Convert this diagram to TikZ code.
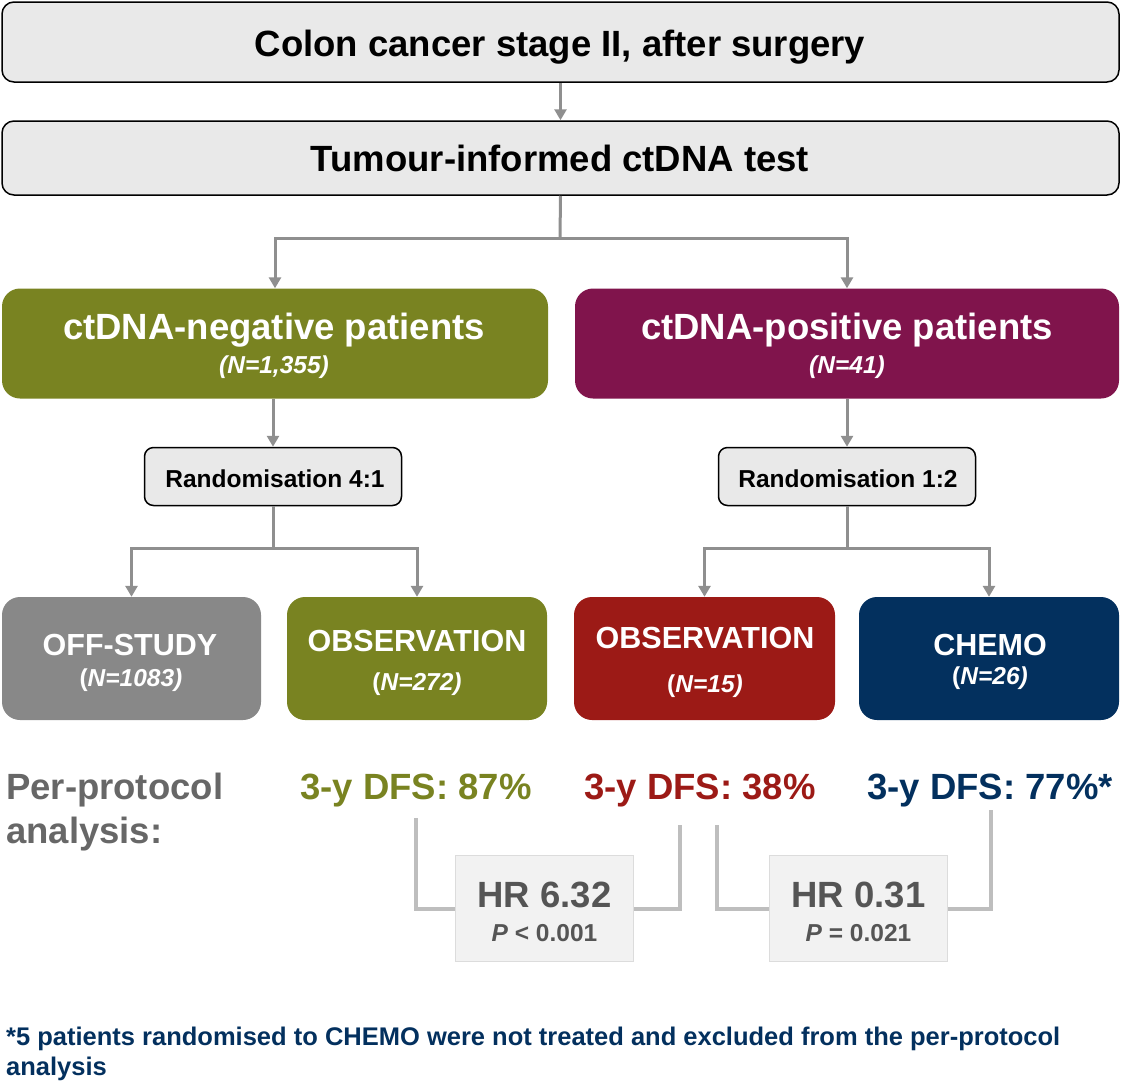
\documentclass[tikz,border=0pt]{standalone}
\usepackage{fontspec}
\setmainfont{Liberation Sans}
\usetikzlibrary{arrows.meta}
\definecolor{boxgray}{HTML}{E9E9E9}
\definecolor{olive}{HTML}{798321}
\definecolor{plum}{HTML}{80144C}
\definecolor{offgray}{HTML}{888888}
\definecolor{obsred}{HTML}{9C1A16}
\definecolor{navy}{HTML}{03305E}
\definecolor{ppgray}{HTML}{676767}
\definecolor{hrgray}{HTML}{555555}
\definecolor{arrgray}{HTML}{8F8F8F}
\definecolor{brgray}{HTML}{BEBEBE}
\definecolor{hrfill}{HTML}{F2F2F2}
\definecolor{hrline}{HTML}{DCDCDC}
\newcommand\szBig{\fontsize{36.5}{40}\selectfont\bfseries}
\newcommand\szMid{\fontsize{30.5}{34}\selectfont\bfseries}
\newcommand\szSm{\fontsize{24.5}{28}\selectfont\bfseries}
\newcommand\szFn{\fontsize{25.5}{30}\selectfont\bfseries}
\begin{document}
\begin{tikzpicture}[x=1pt,y=-1pt,
  topbox/.style={draw=black, line width=1.5pt, fill=boxgray, rounded corners=12pt, inner sep=0pt},
  randbox/.style={draw=black, line width=1.5pt, fill=boxgray, rounded corners=9pt, inner sep=0pt, minimum width=257pt, minimum height=58pt},
  colbox/.style={fill=#1, rounded corners=18pt, inner sep=0pt},
  hrbox/.style={draw=hrline, line width=1.5pt, fill=hrfill, inner sep=0pt, minimum width=178pt, minimum height=106pt},
  txt/.style={inner sep=0pt, anchor=base},
  conn/.style={draw=arrgray, line width=3pt, -{Triangle[width=12pt,length=11pt]}},
  plain/.style={draw=arrgray, line width=3pt},
  brk/.style={draw=brgray, line width=4pt}]
\useasboundingbox (0,0) rectangle (1121,1085);

% top boxes
\node[topbox, minimum width=1117pt, minimum height=80pt] (b1) at (560.5,42) {};
\node[txt] (t1) at (560,56) {\szBig Colon cancer stage II, after surgery};
\node[topbox, minimum width=1117pt, minimum height=74pt] (b2) at (560.5,158) {};
\node[txt] (t2) at (560,171) {\szBig Tumour-informed ctDNA test};

% group boxes
\node[colbox=olive, minimum width=546pt, minimum height=110pt] (neg) at (275,343.5) {};
\node[txt, text=white] (negt) at (274,339) {\szBig ctDNA-negative patients};
\node[txt, text=white] (negn) at (274,373) {\szSm\itshape (N=1,355)};
\node[colbox=plum, minimum width=544pt, minimum height=110pt] (pos) at (847,343.5) {};
\node[txt, text=white] (post) at (847,339) {\szBig ctDNA-positive patients};
\node[txt, text=white] (posn) at (847,373) {\szSm\itshape (N=41)};

% randomisation
\node[randbox] (r1) at (273,476.5) {};
\node[txt] (r1t) at (275,487) {\szSm Randomisation 4:1};
\node[randbox] (r2) at (847,476.5) {};
\node[txt] (r2t) at (848,487) {\szSm Randomisation 1:2};

% arm boxes
\node[colbox=offgray, minimum width=259pt, minimum height=123pt] (off) at (131.5,658.5) {};
\node[txt, text=white] (offt) at (130,655) {\szMid OFF-STUDY};
\node[txt, text=white] (offn) at (131,686) {\szSm (\textit{N=1083)}};
\node[colbox=olive, minimum width=260pt, minimum height=123pt] (obsn) at (417,658.5) {};
\node[txt, text=white] (obsnt) at (417,651) {\szMid OBSERVATION};
\node[txt, text=white] (obsnn) at (417,690) {\szSm (\textit{N=272)}};
\node[colbox=obsred, minimum width=261pt, minimum height=123pt] (obsp) at (704.5,658.5) {};
\node[txt, text=white] (obspt) at (705,648) {\szMid OBSERVATION};
\node[txt, text=white] (obspn) at (705,692) {\szSm (\textit{N=15)}};
\node[colbox=navy, minimum width=260pt, minimum height=123pt] (chemo) at (989,658.5) {};
\node[txt, text=white] (chemot) at (990,655) {\szMid CHEMO};
\node[txt, text=white] (chemon) at (990,684) {\szSm (\textit{N=26)}};

% connectors
\draw[conn] (b1.south) -- (b2.north);
\draw[plain] (b2.south) -- (560,238) coordinate (j1);
\draw[conn] (j1) -| (neg.north);
\draw[conn] (j1) -| (pos.north);
\draw[conn] (neg.south -| r1.north) -- (r1.north);
\draw[conn] (pos.south) -- (r2.north);
\draw[plain] (r1.south) -- (273,548) coordinate (j2);
\draw[conn] (j2) -| (off.north);
\draw[conn] (j2) -| (obsn.north);
\draw[plain] (r2.south) -- (847,548) coordinate (j3);
\draw[conn] (j3) -| (obsp.north);
\draw[conn] (j3) -| (chemo.north);

% per-protocol
\node[txt, anchor=base west, text=ppgray] (pp1) at (6,799) {\szBig Per-protocol};
\node[txt, anchor=base west, text=ppgray] (pp2) at (6,843) {\szBig analysis:};
\node[txt, text=olive] (d1) at (416,799) {\szBig 3-y DFS: 87\%};
\node[txt, text=obsred] (d2) at (700,799) {\szBig 3-y DFS: 38\%};
\node[txt, text=navy] (d3) at (990,799) {\szBig 3-y DFS: 77\%*};

% HR boxes
\node[hrbox] (hr1) at (544.5,908.5) {};
\node[txt, text=hrgray] (hr1a) at (544.5,907) {\szBig HR 6.32};
\node[txt, text=hrgray] (hr1b) at (544.5,941) {\szSm\textit{P} < 0.001};
\node[hrbox] (hr2) at (858.5,908.5) {};
\node[txt, text=hrgray] (hr2a) at (858.5,907) {\szBig HR 0.31};
\node[txt, text=hrgray] (hr2b) at (858.5,941) {\szSm\textit{P} = 0.021};

\coordinate (l1) at (416,818);
\coordinate (rr1) at (680,825);
\coordinate (l2) at (717,825);
\coordinate (rr2) at (991,810);
\draw[brk] (l1) |- (hr1.west);
\draw[brk] (hr1.east) -| (rr1);
\draw[brk] (l2) |- (hr2.west);
\draw[brk] (hr2.east) -| (rr2);

% footnote
\node[txt, anchor=base west, text=navy] (fn1) at (6,1045) {\szFn *5 patients randomised to CHEMO were not treated and excluded from the per-protocol};
\node[txt, anchor=base west, text=navy] (fn2) at (6,1075) {\szFn analysis};
\end{tikzpicture}
\end{document}
